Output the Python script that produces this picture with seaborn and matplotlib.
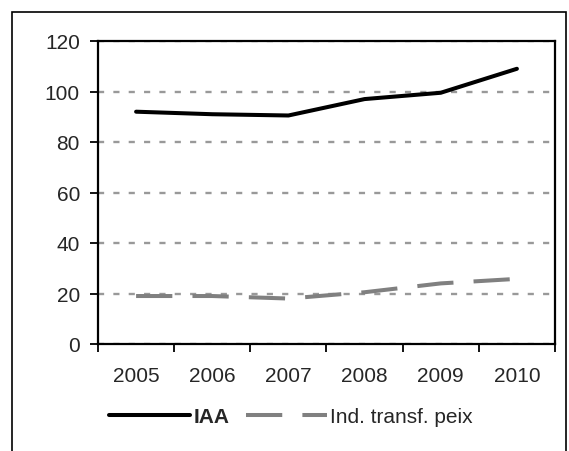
import matplotlib
matplotlib.use('Agg')
import matplotlib.pyplot as plt
import seaborn as sns
import pandas as pd
from matplotlib.patches import Rectangle

# dades
anys = ['2005', '2006', '2007', '2008', '2009', '2010']
iaa = [92, 91, 90.5, 97, 99.5, 109]
peix = [19, 19, 18, 20.5, 24, 25.8]

sns.set_style('white')
plt.rcParams['font.family'] = ['Liberation Sans', 'DejaVu Sans']

W, H = 569, 452
fig = plt.figure(figsize=(W / 100, H / 100), dpi=100)
ax = fig.add_axes([98 / W, 1 - 345 / H, (555 - 98) / W, (345 - 42) / H])

df = pd.DataFrame({'x': range(len(anys)), 'IAA': iaa, 'Ind. transf. peix': peix})

sns.lineplot(data=df, x='x', y='IAA', color='black', linewidth=2.9,
             solid_capstyle='round', label='IAA', ax=ax)
sns.lineplot(data=df, x='x', y='Ind. transf. peix', color='#808080', linewidth=2.9,
             linestyle=(0, (9, 5)), dash_capstyle='butt', label='Ind. transf. peix', ax=ax)

# eixos
ax.set_xlim(-0.5, len(anys) - 0.5)
ax.set_ylim(0, 120)
ax.set_yticks(range(0, 121, 20))
ax.set_xticks([i - 0.5 for i in range(len(anys) + 1)])
ax.set_xticklabels([])
ax.set_xticks(range(len(anys)), minor=True)
ax.set_xticklabels(anys, minor=True)
ax.tick_params(axis='x', which='major', direction='out', length=6, width=1.3,
               color='black', bottom=True)
ax.tick_params(axis='x', which='minor', length=0, pad=16, labelsize=15)
ax.tick_params(axis='y', direction='out', length=6, width=1.3, color='black',
               left=True, pad=7, labelsize=15)
ax.set_xlabel('')
ax.set_ylabel('')

for s in ax.spines.values():
    s.set_visible(True)
    s.set_color('black')
    s.set_linewidth(1.6)

ax.yaxis.grid(True, color='#999999', linewidth=1.7, linestyle=(0, (2.6, 3.9)))
ax.set_axisbelow(True)

# llegenda
ax.get_legend().remove()
handles, labels = ax.get_legend_handles_labels()
leg = fig.legend(handles, labels, loc='center', bbox_to_anchor=(291 / W, 1 - 418 / H),
                 ncol=2, frameon=False, fontsize=15, handlelength=3.9,
                 handletextpad=0.15, columnspacing=0.8)
leg.get_texts()[0].set_fontweight('bold')

# marc exterior
fig.patches.append(Rectangle((11.5 / W, -0.05), (566 - 11.5) / W, 1.05 - 12.5 / H,
                             transform=fig.transFigure, fill=False,
                             edgecolor='black', linewidth=1.2))

fig.savefig('out.png', dpi=100)
